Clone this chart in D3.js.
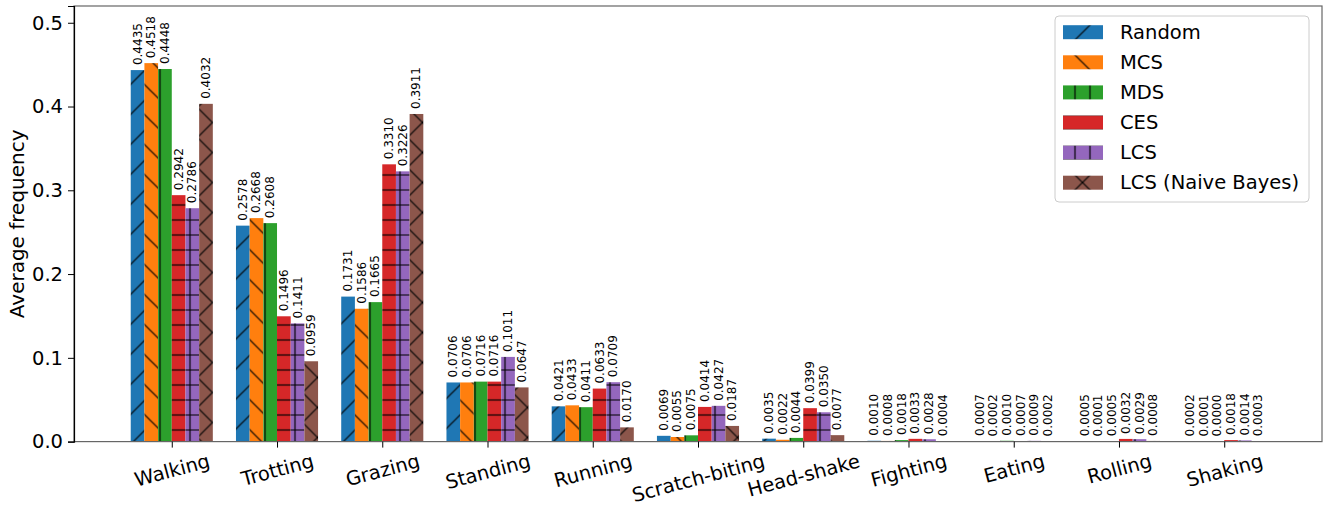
<!DOCTYPE html>
<html>
<head>
<meta charset="utf-8">
<script src="https://cdn.jsdelivr.net/npm/d3@7/dist/d3.min.js"></script>
<style>
	body { margin: 0; background: #fff; }
	text { font-family: 'DejaVu Sans', sans-serif; fill: #000; }
</style>
</head>
<body>
<div id="chart"></div>
<script>
// Behaviours on the x-axis
let categories = ['Walking', 'Trotting', 'Grazing', 'Standing', 'Running', 'Scratch-biting',
	'Head-shake', 'Fighting', 'Eating', 'Rolling', 'Shaking'];

// One array per selection method, in the order of the categories
let methods = ['Random', 'MCS', 'MDS', 'CES', 'LCS', 'LCS (Naive Bayes)'];
let random = [0.4435, 0.2578, 0.1731, 0.0706, 0.0421, 0.0069, 0.0035, 0.0010, 0.0007, 0.0005, 0.0002];
let mcs = [0.4518, 0.2668, 0.1586, 0.0706, 0.0433, 0.0055, 0.0022, 0.0008, 0.0002, 0.0001, 0.0001];
let mds = [0.4448, 0.2608, 0.1665, 0.0716, 0.0411, 0.0075, 0.0044, 0.0018, 0.0010, 0.0005, 0.0000];
let ces = [0.2942, 0.1496, 0.3310, 0.0716, 0.0633, 0.0414, 0.0399, 0.0033, 0.0007, 0.0032, 0.0018];
let lcs = [0.2786, 0.1411, 0.3226, 0.1011, 0.0709, 0.0427, 0.0350, 0.0028, 0.0009, 0.0029, 0.0014];
let lcsNaiveBayes = [0.4032, 0.0959, 0.3911, 0.0647, 0.0170, 0.0187, 0.0077, 0.0004, 0.0002, 0.0008, 0.0003];
let series = [random, mcs, mds, ces, lcs, lcsNaiveBayes];

let yTicks = [0, 0.1, 0.2, 0.3, 0.4, 0.5];

let colors = ['#1f77b4', '#ff7f0e', '#2ca02c', '#d62728', '#9467bd', '#8c564b'];
let hatches = ['/', '\\', '|', '-', '+', 'x'];

let width = 1323;
let height = 508;
let plotLeft = 74, plotRight = 1322, plotTop = 6, plotBottom = 441.6;
let barW = 0.13; // bar width in category units
let fs = 19.5;   // main font size

let xScale = d3.scaleLinear().domain([-0.929, 10.929]).range([plotLeft, plotRight]);
let yScale = d3.scaleLinear().domain([0, 0.52]).range([plotBottom, plotTop]);

let svg = d3.select('#chart')
		.append('svg')
		.attr('width', width)
		.attr('height', height);

// Hatch patterns, tiled on the page like matplotlib does
let defs = svg.append('defs');
let unit = 15;
hatches.forEach((h, k) => {
	let diag = (h === '/' || h === '\\' || h === 'x');
	let tile = diag ? unit * 2 : unit;
	let p = defs.append('pattern')
			.attr('id', 'hatch' + k)
			.attr('patternUnits', 'userSpaceOnUse')
			.attr('width', tile)
			.attr('height', tile)
			.attr('patternTransform', 'translate(2.5,2.5)');
	p.append('rect').attr('width', tile).attr('height', tile).attr('fill', colors[k]);
	let d = '';
	let t = tile, m = t / 2;
	if(h === '/' || h === 'x') d += `M-5,5L5,-5M-5,${t + 5}L${t + 5},-5M${t - 5},${t + 5}L${t + 5},${t - 5}`;
	if(h === '\\' || h === 'x') d += `M-5,-5L${t + 5},${t + 5}M${t - 5},-5L${t + 5},5M-5,${t - 5}L5,${t + 5}`;
	if(h === '|' || h === '+') d += `M${m},-1L${m},${t + 1}`;
	if(h === '-' || h === '+') d += `M-1,${m}L${t + 1},${m}`;
	p.append('path').attr('d', d).attr('stroke', '#000').attr('stroke-width', 1.2).attr('fill', 'none');
});

// Bars
let bw = xScale(barW) - xScale(0);
series.forEach((vals, s) => {
	let g = svg.append('g').attr('class', 'series');
	g.selectAll('rect')
			.data(vals)
			.enter()
			.append('rect')
			.attr('x', (d, i) => xScale(i + (s - 3) * barW))
			.attr('y', d => yScale(d))
			.attr('width', bw)
			.attr('height', d => plotBottom - yScale(d))
			.attr('fill', `url(#hatch${s})`);
	
	// Value labels, rotated upward above each bar
	g.selectAll('text')
			.data(vals)
			.enter()
			.append('text')
			.attr('transform', (d, i) => `translate(${xScale(i + (s - 2.5) * barW)},${yScale(d) - 5}) rotate(-90)`)
			.attr('dominant-baseline', 'central')
			.attr('font-size', 12)
			.text(d => d.toFixed(4));
});

// Spines
svg.append('rect')
		.attr('x', plotLeft).attr('y', plotTop)
		.attr('width', plotRight - plotLeft).attr('height', plotBottom - plotTop)
		.attr('fill', 'none')
		.attr('stroke', '#666')
		.attr('stroke-width', 1.2);

// Y axis
let yAxis = svg.append('g')
		.attr('transform', `translate(${plotLeft},0)`)
		.call(d3.axisLeft(yScale).tickValues(yTicks).tickFormat(d3.format('.1f')).tickSize(6).tickPadding(5));
yAxis.select('.domain').attr('stroke', '#000').attr('stroke-width', 1.2);
yAxis.selectAll('text').attr('font-size', fs).attr('font-family', 'DejaVu Sans');

// X axis with rotated labels
let xAxis = svg.append('g')
		.attr('transform', `translate(0,${plotBottom})`)
		.call(d3.axisBottom(xScale).tickValues(d3.range(categories.length)).tickFormat(i => categories[i]).tickSize(6));
xAxis.select('.domain').remove();
xAxis.selectAll('text')
		.attr('font-size', fs)
		.attr('font-family', 'DejaVu Sans')
		.attr('y', null).attr('dy', null)
		.attr('text-anchor', 'middle')
		.attr('dominant-baseline', 'central')
		.each(function() {
			// center the rotated label box under the tick
			let w = this.getComputedTextLength();
			let rad = 15 * Math.PI / 180;
			let boxH = w * Math.sin(rad) + fs * 1.164 * Math.cos(rad);
			d3.select(this).attr('transform', `translate(0,${8 + boxH / 2}) rotate(-15)`);
		});

// Y axis label
svg.append('text')
		.attr('transform', `translate(17,${(plotTop + plotBottom) / 2}) rotate(-90)`)
		.attr('text-anchor', 'middle')
		.attr('dominant-baseline', 'central')
		.attr('font-size', 20)
		.text('Average frequency');

// Legend
let legend = svg.append('g').attr('class', 'legend');
legend.append('rect')
		.attr('x', 1055).attr('y', 16)
		.attr('width', 254).attr('height', 186)
		.attr('rx', 4)
		.attr('fill', '#fff').attr('fill-opacity', 0.8)
		.attr('stroke', '#ccc');
methods.forEach((name, k) => {
	let cy = 32.2 + k * 30.1;
	legend.append('rect')
			.attr('x', 1063).attr('y', cy - 7)
			.attr('width', 40).attr('height', 14)
			.attr('fill', `url(#hatch${k})`);
	legend.append('text')
			.attr('x', 1120).attr('y', cy)
			.attr('dominant-baseline', 'central')
			.attr('font-size', fs)
			.text(name);
});
</script>
</body>
</html>
